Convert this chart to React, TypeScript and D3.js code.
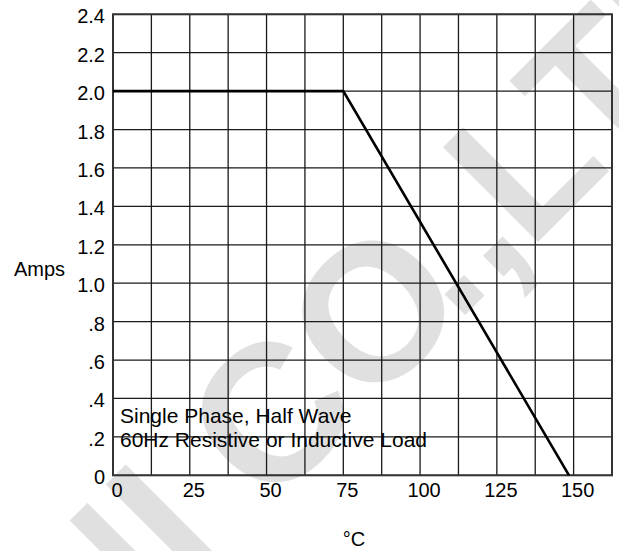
import React from "react";
import * as d3 from "d3";

const W = 619;
const H = 551;

// Data
const curveTemps = [0, 75, 148.5];
const curveAmps = [2.0, 2.0, 0];
const xTickValues = [0, 25, 50, 75, 100, 125, 150];
const xTickLabels = ["0", "25", "50", "75", "100", "125", "150"];
const yTickValues = [0, 0.2, 0.4, 0.6, 0.8, 1.0, 1.2, 1.4, 1.6, 1.8, 2.0, 2.2, 2.4];
const yTickLabels = ["0", ".2", ".4", ".6", ".8", "1.0", "1.2", "1.4", "1.6", "1.8", "2.0", "2.2", "2.4"];
const xGridValues = d3.range(0, 162.5 + 0.001, 12.5);
const noteLines = ["Single Phase, Half Wave", "60Hz Resistive or Inductive Load"];

export default function App() {
  const x = d3.scaleLinear().domain([0, 162.5]).range([113, 612]);
  const y = d3.scaleLinear().domain([0, 2.4]).range([475.3, 14.3]);
  const pts: [number, number][] = curveTemps.map((t, i) => [t, curveAmps[i]]);
  const line = d3
    .line<[number, number]>()
    .x((d) => x(d[0]))
    .y((d) => y(d[1]));
  const font = "'Liberation Sans', Arial, Helvetica, sans-serif";

  return (
    <svg
      width={W}
      height={H}
      style={{ position: "absolute", left: 0, top: 0, display: "block", background: "#fff" }}
      fontFamily={font}
    >
      <rect x={0} y={0} width={W} height={H} fill="#fff" />
      {/* watermark */}
      <g transform="translate(268,512) rotate(-45)" fill="#e0e0e0" fontSize={195} fontWeight="bold">
        <text x={-54} y={0} textAnchor="end">NI</text>
        <text x={0} y={0} textAnchor="start">
          CO<tspan dx={-27}>.,</tspan>
          <tspan dx={-5}>LTD</tspan>
        </text>
      </g>
      {/* grid */}
      {xGridValues.map((v) => (
        <line key={"gx" + v} x1={x(v)} x2={x(v)} y1={y(0)} y2={y(2.4)} stroke="#1a1a1a" strokeWidth={1.3} />
      ))}
      {yTickValues.map((v) => (
        <line key={"gy" + v} x1={x(0)} x2={x(162.5)} y1={y(v)} y2={y(v)} stroke="#1a1a1a" strokeWidth={1.3} />
      ))}
      <rect
        x={x(0)}
        y={y(2.4)}
        width={x(162.5) - x(0)}
        height={y(0) - y(2.4)}
        fill="none"
        stroke="#333"
        strokeWidth={2}
      />
      {/* note */}
      {noteLines.map((t, i) => (
        <text key={t} x={120} y={423 + i * 24} fontSize={21} fill="#000">
          {t}
        </text>
      ))}
      {/* curve */}
      <path d={line(pts) || ""} fill="none" stroke="#000" strokeWidth={2.6} strokeLinejoin="miter" />
      {/* y ticks */}
      {yTickValues.map((v, i) => (
        <text key={"yl" + v} x={105} y={y(v) + 2} fontSize={20} textAnchor="end" dominantBaseline="central" fill="#000">
          {yTickLabels[i]}
        </text>
      ))}
      {/* x ticks */}
      {xTickValues.map((v, i) => (
        <text key={"xl" + v} x={x(v) + 4} y={497} fontSize={20} textAnchor="middle" fill="#000">
          {xTickLabels[i]}
        </text>
      ))}
      <text x={14} y={276} fontSize={20} fill="#000">Amps</text>
      <text x={354} y={546} fontSize={20} textAnchor="middle" fill="#000">°C</text>
    </svg>
  );
}
